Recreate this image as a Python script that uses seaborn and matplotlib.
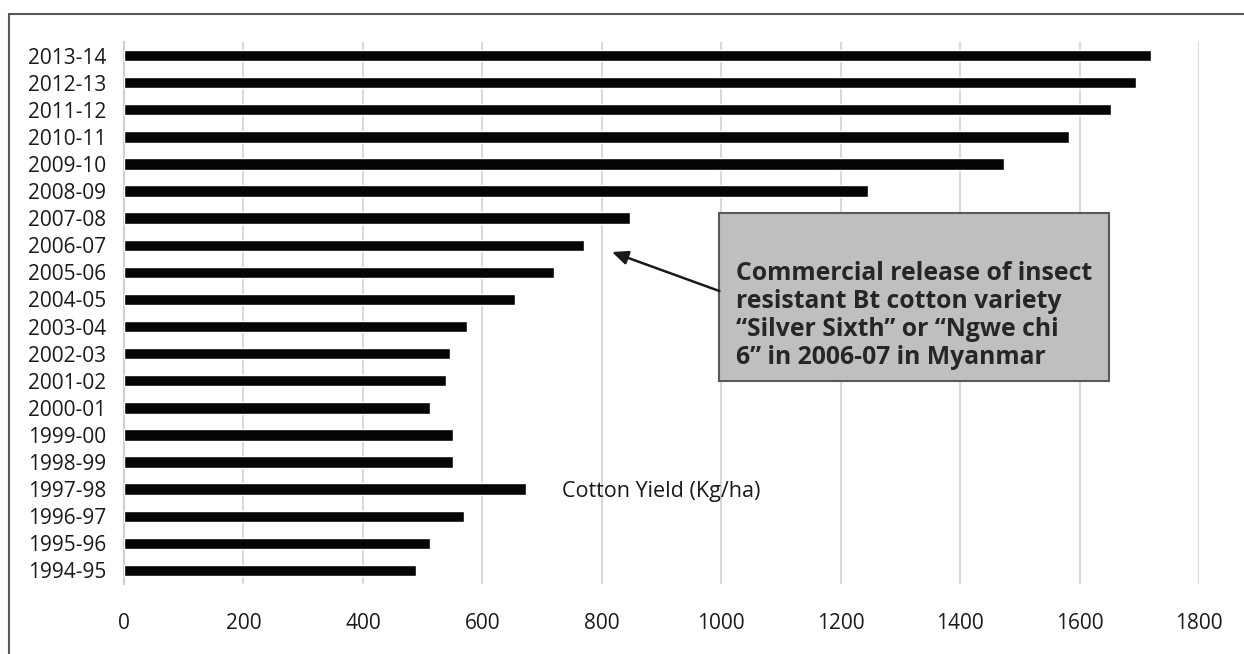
import matplotlib
matplotlib.use("Agg")
import matplotlib.pyplot as plt
from matplotlib.patches import Rectangle
import pandas as pd
import seaborn as sns

# Cotton yield by season, most recent season first (top of the chart)
seasons = ["2013-14", "2012-13", "2011-12", "2010-11", "2009-10", "2008-09",
           "2007-08", "2006-07", "2005-06", "2004-05", "2003-04", "2002-03",
           "2001-02", "2000-01", "1999-00", "1998-99", "1997-98", "1996-97",
           "1995-96", "1994-95"]
yield_kg_ha = [1720, 1694, 1652, 1582, 1473, 1245,
               847, 770, 720, 655, 574, 546,
               539, 512, 551, 551, 673, 569,
               512, 489]
x_ticks = [0, 200, 400, 600, 800, 1000, 1200, 1400, 1600, 1800]

x_label = "Cotton Yield (Kg/ha)"
note = ("Commercial release of insect\n"
        "resistant Bt cotton variety\n"
        "\u201cSilver Sixth\u201d or \u201cNgwe chi\n"
        "6\u201d in 2006-07 in Myanmar")
release_season = "2006-07"

df = pd.DataFrame({"season": seasons, "yield": yield_kg_ha})

sns.set_theme(style="white")
plt.rcParams["font.family"] = ["Open Sans", "DejaVu Sans"]

fig = plt.figure(figsize=(12.44, 6.54), dpi=100)
ax = fig.add_axes([124 / 1244, 70 / 654, 1075 / 1244, 542 / 654])

sns.barplot(data=df, x="yield", y="season", orient="h", order=seasons,
            color="#050505", saturation=1, width=0.42, ax=ax, zorder=3)

ax.set_xlim(0, 1800)
ax.set_xticks(x_ticks)
ax.set_xticklabels([str(t) for t in x_ticks])
ax.set_ylabel("")
ax.set_xlabel(x_label, fontsize=15.5, color="#1a1a1a")
ax.xaxis.set_label_coords(0.5, 0.19)

ax.grid(axis="x", color="#d9d9d9", linewidth=1.5, zorder=0)
ax.grid(axis="y", visible=False)
for side in ["top", "right", "bottom"]:
    ax.spines[side].set_visible(False)
ax.spines["left"].set_color("#d0d0d0")
ax.spines["left"].set_linewidth(1.5)

ax.tick_params(axis="y", length=0, pad=13, labelsize=15, labelcolor="#1a1a1a")
ax.tick_params(axis="x", length=0, pad=21, labelsize=15, labelcolor="#1a1a1a")

# Annotation box marking the Bt cotton release
row = seasons.index(release_season)
box_left, box_right = 997, 1650
box_top, box_bottom = row - 1.19, row + 5.01
ax.add_patch(Rectangle((box_left, box_top), box_right - box_left,
                       box_bottom - box_top, facecolor="#bfbfbf",
                       edgecolor="#595959", linewidth=1.5, zorder=5))
ax.text(1024, (box_top + box_bottom) / 2 + 0.68, note, ha="left", va="center",
        fontsize=17.8, fontweight="bold", color="#262626",
        linespacing=1.17, zorder=6)
ax.annotate("", xy=(817, row + 0.25), xytext=(box_left, row + 1.69),
            arrowprops=dict(arrowstyle="-|>,head_length=0.8,head_width=0.35",
                            color="#1a1a1a", lw=1.8, shrinkA=0, shrinkB=0),
            zorder=6)

# Outer frame around the chart
fig.patches.append(Rectangle((9 / 1244, -0.1), 1.2, (654 - 13.5) / 654 + 0.1,
                             transform=fig.transFigure, fill=False,
                             edgecolor="#595959", linewidth=1.5))

fig.savefig("out.png", dpi=100)
